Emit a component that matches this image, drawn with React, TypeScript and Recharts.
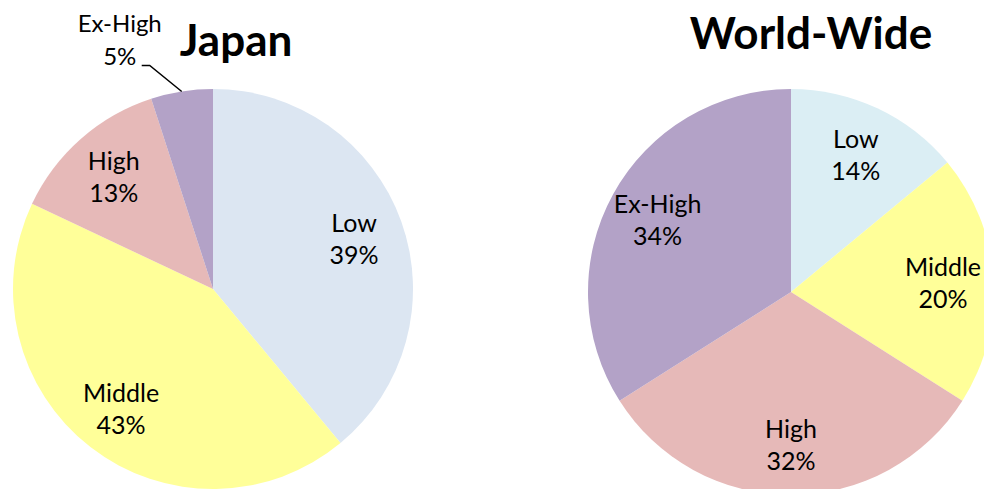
import { PieChart, Pie, Cell } from "recharts";

const categories = ["Low", "Middle", "High", "Ex-High"];
const japanValues = [39, 43, 13, 5];
const worldValues = [14, 20, 32, 34];
const japanColors = ["#DCE6F2", "#FFFF99", "#E6B9B8", "#B3A2C7"];
const worldColors = ["#DBEEF4", "#FFFF99", "#E6B9B8", "#B3A2C7"];

const japanData = categories.map((name, i) => ({ name, value: japanValues[i] }));
const worldData = categories.map((name, i) => ({ name, value: worldValues[i] }));

const RADIAN = Math.PI / 180;
const FONT = "Lato, 'Open Sans', sans-serif";
const LABEL_SIZE = 25;

function renderLabel(props: any) {
  const { cx, cy, midAngle, outerRadius, name, value, percent } = props;
  const cos = Math.cos(-midAngle * RADIAN);
  const sin = Math.sin(-midAngle * RADIAN);

  if (percent < 0.08) {
    // small slice: label sits outside with a leader line
    const ex = cx + outerRadius * cos;
    const ey = cy + outerRadius * sin;
    const bx = ex - 32;
    const by = ey - 26;
    const tx = bx - 8;
    return (
      <g>
        <polyline points={`${ex},${ey} ${bx},${by} ${tx},${by}`} fill="none" stroke="#000" strokeWidth={1.5} />
        <text x={tx - 22} y={by - 43} textAnchor="middle" dominantBaseline="central" fontSize={LABEL_SIZE - 1} fill="#000" fontFamily={FONT}>
          {name}
        </text>
        <text x={tx - 22} y={by - 10} textAnchor="middle" dominantBaseline="central" fontSize={LABEL_SIZE - 1} fill="#000" fontFamily={FONT}>
          {value}%
        </text>
      </g>
    );
  }

  const r = outerRadius * 0.75;
  const x = cx + r * cos;
  const y = cy + r * sin;
  return (
    <g>
      <text x={x} y={y - 16} textAnchor="middle" dominantBaseline="central" fontSize={LABEL_SIZE} fill="#000" fontFamily={FONT}>
        {name}
      </text>
      <text x={x} y={y + 16} textAnchor="middle" dominantBaseline="central" fontSize={LABEL_SIZE} fill="#000" fontFamily={FONT}>
        {value}%
      </text>
    </g>
  );
}

const titleStyle: React.CSSProperties = {
  position: "absolute",
  fontFamily: FONT,
  fontWeight: 700,
  fontSize: 44,
  color: "#000",
  lineHeight: 1,
  transform: "translateX(-50%)",
  whiteSpace: "nowrap",
};

export default function App() {
  return (
    <div style={{ position: "absolute", left: 0, top: 0, width: 984, height: 489, overflow: "hidden", background: "#fff" }}>
      <PieChart width={984} height={489} margin={{ top: 0, right: 0, bottom: 0, left: 0 }}>
        <Pie
          data={japanData}
          dataKey="value"
          nameKey="name"
          cx={213}
          cy={289}
          outerRadius={200}
          startAngle={90}
          endAngle={-270}
          stroke="none"
          label={renderLabel}
          labelLine={false}
          isAnimationActive={false}
        >
          {japanData.map((d, i) => (
            <Cell key={d.name} fill={japanColors[i]} />
          ))}
        </Pie>
        <Pie
          data={worldData}
          dataKey="value"
          nameKey="name"
          cx={791}
          cy={292}
          outerRadius={203}
          startAngle={90}
          endAngle={-270}
          stroke="none"
          label={renderLabel}
          labelLine={false}
          isAnimationActive={false}
        >
          {worldData.map((d, i) => (
            <Cell key={d.name} fill={worldColors[i]} />
          ))}
        </Pie>
      </PieChart>
      <div style={{ ...titleStyle, left: 236, top: 17 }}>Japan</div>
      <div style={{ ...titleStyle, left: 811, top: 10 }}>World-Wide</div>
    </div>
  );
}
